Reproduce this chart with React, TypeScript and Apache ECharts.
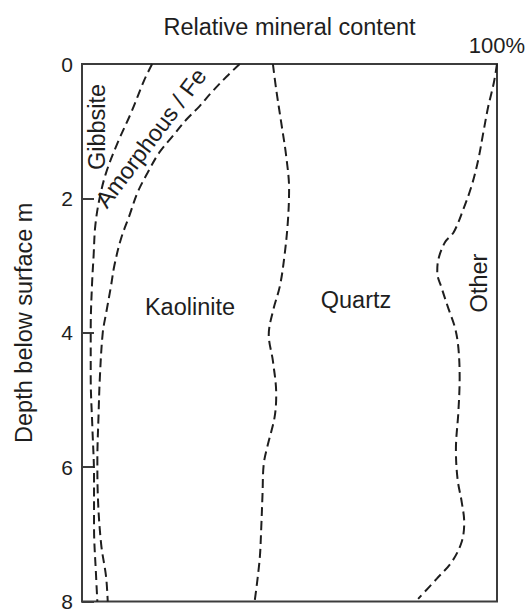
import { useEffect, useRef } from 'react';
import * as echarts from 'echarts';

const chartTitle = 'Relative mineral content';
const depthName = 'Depth below surface m';
const depthMin = 0;
const depthMax = 8;
const depthStep = 2;
const pctMin = 0;
const pctMax = 100;

// Boundary curves: depth (m) and cumulative relative content (%)
const gibbsiteDepth = [0, 0.24, 0.73, 1.17, 1.62, 2.01, 2.41, 2.85, 3.3, 3.93, 4.67, 5.41, 6.15, 6.89, 7.63, 8];
const gibbsitePct = [16.9, 15.0, 11.8, 8.6, 5.8, 4.2, 3.2, 2.8, 2.4, 2.1, 2.1, 2.5, 2.9, 2.9, 3.4, 3.7];

const amorphousDepth = [0, 0.19, 0.43, 0.63, 0.83, 1.07, 1.32, 1.62, 1.91, 2.26, 2.6, 3.0, 3.3, 3.68, 4.0, 4.67, 5.2, 5.9, 6.4, 7.14, 7.63, 8];
const amorphousPct = [38.0, 34.8, 31.1, 28.3, 25.1, 21.9, 18.6, 15.8, 13.4, 11.4, 9.4, 7.8, 7.0, 5.9, 5.0, 4.3, 4.0, 3.7, 3.8, 4.6, 5.8, 6.2];

const quartzDepth = [0, 0.38, 0.87, 1.37, 1.86, 2.35, 2.85, 3.3, 3.68, 4.03, 4.42, 4.92, 5.26, 5.66, 5.95, 6.4, 6.89, 7.38, 8];
const quartzPct = [46.0, 46.8, 48.0, 49.2, 49.9, 49.6, 48.8, 47.7, 46.0, 45.0, 46.0, 46.8, 46.4, 44.8, 43.8, 43.5, 43.2, 42.8, 41.6];

const otherDepth = [0, 0.29, 0.63, 1.02, 1.42, 1.81, 2.16, 2.5, 2.65, 2.9, 3.1, 3.34, 3.64, 3.93, 4.23, 4.67, 5.17, 5.74, 6.18, 6.52, 6.82, 7.11, 7.41, 7.66, 7.96];
const otherPct = [100, 99.2, 97.9, 96.7, 95.5, 93.9, 91.9, 89.6, 87.5, 85.9, 85.6, 86.7, 88.3, 89.9, 90.7, 91.0, 90.7, 90.1, 90.5, 91.5, 92.1, 91.5, 89.1, 85.5, 81.0];

const zoneLabels = ['Gibbsite', 'Amorphous / Fe', 'Kaolinite', 'Quartz', 'Other'];

const FONT = 'Liberation Sans, Arial, Helvetica, sans-serif';
const INK = '#1e1e1e';
const FRAME = '#3c3c3c';
const LABEL_SIZE = 23.5;

const zip = (d: number[], p: number[]) => d.map((v, i) => [p[i], v]);

export default function App() {
  const ref = useRef<HTMLDivElement>(null);

  useEffect(() => {
    if (!ref.current) return;
    const chart = echarts.init(ref.current, undefined, { renderer: 'svg' });

    const lineSeries = (name: string, d: number[], p: number[]) => ({
      name,
      type: 'line',
      data: zip(d, p),
      symbol: 'none',
      showSymbol: false,
      smooth: 0.35,
      lineStyle: { color: INK, width: 2, type: [9, 5] },
      silent: true,
    });

    const txt = (text: string, x: number, y: number, rotation = 0) => ({
      type: 'text',
      x,
      y,
      rotation,
      silent: true,
      style: {
        text,
        fill: INK,
        font: `${LABEL_SIZE}px ${FONT}`,
        align: 'center',
        verticalAlign: 'middle',
      },
    });

    chart.setOption({
      animation: false,
      backgroundColor: '#ffffff',
      grid: {
        left: 82,
        top: 64,
        width: 415,
        height: 541,
        show: true,
        borderColor: FRAME,
        borderWidth: 2,
        backgroundColor: 'transparent',
      },
      xAxis: {
        type: 'value',
        position: 'top',
        min: pctMin,
        max: pctMax,
        interval: 100,
        name: chartTitle,
        nameLocation: 'middle',
        nameGap: 25,
        nameMoveOverlap: false,
        nameTextStyle: { fontSize: LABEL_SIZE, color: INK, fontFamily: FONT },
        axisLine: { show: true, lineStyle: { color: FRAME, width: 2 } },
        axisTick: { show: false },
        splitLine: { show: false },
        axisLabel: {
          fontSize: 22,
          color: INK,
          fontFamily: FONT,
          margin: 8,
          formatter: (v: number) => (v === pctMax ? '100%' : ''),
        },
      },
      yAxis: {
        type: 'value',
        inverse: true,
        min: depthMin,
        max: depthMax,
        interval: depthStep,
        name: depthName,
        nameLocation: 'middle',
        nameGap: 46,
        nameMoveOverlap: false,
        nameTextStyle: { fontSize: LABEL_SIZE, color: INK, fontFamily: FONT, padding: [0, 0, 0, 20] },
        axisLine: { show: true, lineStyle: { color: FRAME, width: 2 } },
        axisTick: { show: true, inside: true, length: 12, lineStyle: { color: FRAME, width: 2 } },
        splitLine: { show: false },
        axisLabel: { fontSize: 21, color: INK, fontFamily: FONT, margin: 9 },
      },
      series: [
        lineSeries('Gibbsite boundary', gibbsiteDepth, gibbsitePct),
        lineSeries('Amorphous / Fe boundary', amorphousDepth, amorphousPct),
        lineSeries('Kaolinite boundary', quartzDepth, quartzPct),
        lineSeries('Quartz boundary', otherDepth, otherPct),
      ],
      graphic: [
        txt(zoneLabels[0], 97, 127, Math.PI / 2),
        txt(zoneLabels[1], 151, 138, (53 * Math.PI) / 180),
        txt(zoneLabels[2], 190, 307),
        txt(zoneLabels[3], 356, 300),
        txt(zoneLabels[4], 479, 283, Math.PI / 2),
      ],
    });

    return () => chart.dispose();
  }, []);

  return (
    <div
      ref={ref}
      style={{ position: 'fixed', left: 0, top: 0, width: 530, height: 612 }}
    />
  );
}
